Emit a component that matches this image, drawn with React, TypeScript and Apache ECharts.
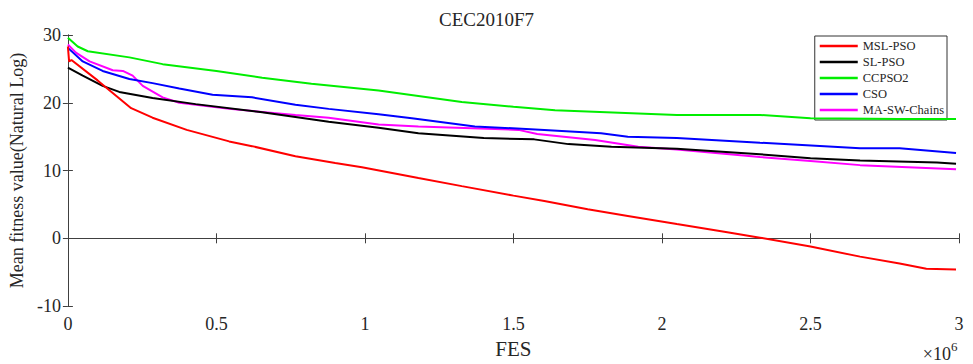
import React, { useEffect, useRef } from "react";
import * as echarts from "echarts";

const TITLE = "CEC2010F7";
const X_NAME = "FES";
const Y_NAME = "Mean fitness value(Natural Log)";
const SERIES_NAMES = ["MSL-PSO", "SL-PSO", "CCPSO2", "CSO", "MA-SW-Chains"];
const SERIES_COLORS = ["#ff0000", "#000000", "#00ee00", "#0000ff", "#ff00ff"];

// x in units of 10^6 FES, y = mean fitness (natural log)
const mslPso: number[][] = [
  [0, 28.3], [0.004, 26.1], [0.012, 26.3], [0.1, 23.3], [0.213, 19.2], [0.285, 17.8],
  [0.4, 16.0], [0.543, 14.3], [0.62, 13.6], [0.766, 12.1], [0.9, 11.1], [0.99, 10.5],
  [1.18, 8.9], [1.326, 7.7], [1.5, 6.3], [1.604, 5.5], [1.75, 4.3], [1.885, 3.3],
  [2.05, 2.1], [2.22, 0.9], [2.33, 0.1], [2.5, -1.2], [2.667, -2.7], [2.8, -3.7],
  [2.89, -4.5], [2.99, -4.6],
];
const slPso: number[][] = [
  [0, 25.2], [0.05, 24.0], [0.117, 22.5], [0.173, 21.6], [0.285, 20.7], [0.43, 19.8],
  [0.654, 18.6], [0.878, 17.2], [1.046, 16.3], [1.18, 15.5], [1.4, 14.8], [1.57, 14.6],
  [1.685, 13.9], [1.83, 13.5], [2.05, 13.2], [2.33, 12.4], [2.5, 11.8], [2.667, 11.5],
  [2.926, 11.2], [2.99, 11.0],
];
const ccpso2: number[][] = [
  [0, 29.6], [0.033, 28.3], [0.067, 27.6], [0.207, 26.7], [0.319, 25.7], [0.5, 24.7],
  [0.654, 23.7], [0.82, 22.8], [1.046, 21.8], [1.326, 20.1], [1.5, 19.4], [1.64, 18.9],
  [2.05, 18.2], [2.33, 18.2], [2.5, 17.7], [2.8, 17.6], [2.99, 17.6],
];
const cso: number[][] = [
  [0, 28.1], [0.05, 26.1], [0.117, 24.7], [0.207, 23.5], [0.285, 22.9], [0.375, 22.1],
  [0.487, 21.2], [0.62, 20.8], [0.766, 19.7], [0.878, 19.1], [1.046, 18.3], [1.158, 17.7],
  [1.37, 16.5], [1.604, 16.0], [1.795, 15.5], [1.885, 15.0], [2.05, 14.8], [2.33, 14.1],
  [2.667, 13.3], [2.8, 13.3], [2.99, 12.6],
];
const maSwChains: number[][] = [
  [0, 28.6], [0.027, 27.4], [0.073, 26.1], [0.151, 24.8], [0.185, 24.7], [0.218, 24.0],
  [0.252, 22.5], [0.319, 20.8], [0.375, 20.0], [0.543, 19.1], [0.766, 18.2], [0.878, 17.8],
  [1.046, 16.8], [1.18, 16.5], [1.517, 16.0], [1.58, 15.4], [1.775, 14.5], [1.92, 13.5],
  [2.05, 13.1], [2.33, 12.0], [2.5, 11.4], [2.667, 10.8], [2.99, 10.2],
];
const SERIES_DATA = [mslPso, slPso, ccpso2, cso, maSwChains];

const X_MIN = 0, X_MAX = 3, X_STEP = 0.5;
const Y_MIN = -10, Y_MAX = 30, Y_STEP = 10;

const FONT = "'Liberation Serif', 'Times New Roman', serif";
const TEXT = "#262626";
const AXIS = "#404040";

export default function App() {
  const ref = useRef<HTMLDivElement>(null);
  useEffect(() => {
    if (!ref.current) return;
    const chart = echarts.init(ref.current, undefined, { renderer: "svg" });
    const axisLine = { show: true, lineStyle: { color: AXIS, width: 1 } };
    const tick = { show: true, inside: true, length: 5, lineStyle: { color: AXIS } };
    chart.setOption({
      animation: false,
      backgroundColor: "#ffffff",
      title: {
        text: TITLE,
        left: "center",
        top: 10,
        padding: 0,
        textStyle: { fontFamily: FONT, fontSize: 19, fontWeight: "normal", color: TEXT },
      },
      grid: { left: 65, right: 14, top: 35, bottom: 54, containLabel: false },
      legend: {
        orient: "vertical",
        right: 26,
        top: 36,
        data: SERIES_NAMES,
        icon: "rect",
        itemWidth: 38,
        itemHeight: 2.5,
        itemGap: 0,
        padding: [2, 3, 2, 5],
        borderColor: "#333",
        borderWidth: 1,
        backgroundColor: "#fff",
        textStyle: { fontFamily: FONT, fontSize: 12.5, color: TEXT, lineHeight: 16 },
      },
      xAxis: [
        {
          type: "value", min: X_MIN, max: X_MAX, interval: X_STEP, position: "bottom",
          name: X_NAME, nameLocation: "middle", nameGap: 28,
          nameTextStyle: { fontFamily: FONT, fontSize: 21, color: TEXT },
          axisLine, axisTick: tick, splitLine: { show: false },
          axisLabel: { fontFamily: FONT, fontSize: 18, color: TEXT, margin: 9 },
        },
        {
          type: "value", min: X_MIN, max: X_MAX, interval: X_STEP, position: "top",
          axisLine, axisTick: tick, splitLine: { show: false }, axisLabel: { show: false },
        },
      ],
      yAxis: [
        {
          type: "value", min: Y_MIN, max: Y_MAX, interval: Y_STEP, position: "left",
          name: Y_NAME, nameLocation: "middle", nameGap: 37,
          nameTextStyle: { fontFamily: FONT, fontSize: 18, color: TEXT },
          axisLine, axisTick: tick, splitLine: { show: false },
          axisLabel: { fontFamily: FONT, fontSize: 18, color: TEXT, margin: 7 },
        },
        {
          type: "value", min: Y_MIN, max: Y_MAX, interval: Y_STEP, position: "right",
          axisLine, axisTick: tick, splitLine: { show: false }, axisLabel: { show: false },
        },
      ],
      graphic: [
        {
          type: "text", x: 951, y: 363,
          style: {
            text: "×10", fontFamily: FONT, fontSize: 18, fill: TEXT,
            textAlign: "right", textVerticalAlign: "bottom",
          },
        },
        {
          type: "text", x: 951, y: 340,
          style: {
            text: "6", fontFamily: FONT, fontSize: 13, fill: TEXT,
            textAlign: "left", textVerticalAlign: "top",
          },
        },
      ],
      series: SERIES_NAMES.map((name, i) => ({
        name,
        type: "line",
        data: SERIES_DATA[i],
        symbol: "none",
        showSymbol: false,
        smooth: false,
        xAxisIndex: 0,
        yAxisIndex: 0,
        color: SERIES_COLORS[i],
        lineStyle: { color: SERIES_COLORS[i], width: 2 },
        z: 10 - i,
      })),
    });
    return () => chart.dispose();
  }, []);
  return (
    <div
      ref={ref}
      style={{ position: "fixed", left: 0, top: 0, width: 973, height: 364, background: "#fff" }}
    />
  );
}
